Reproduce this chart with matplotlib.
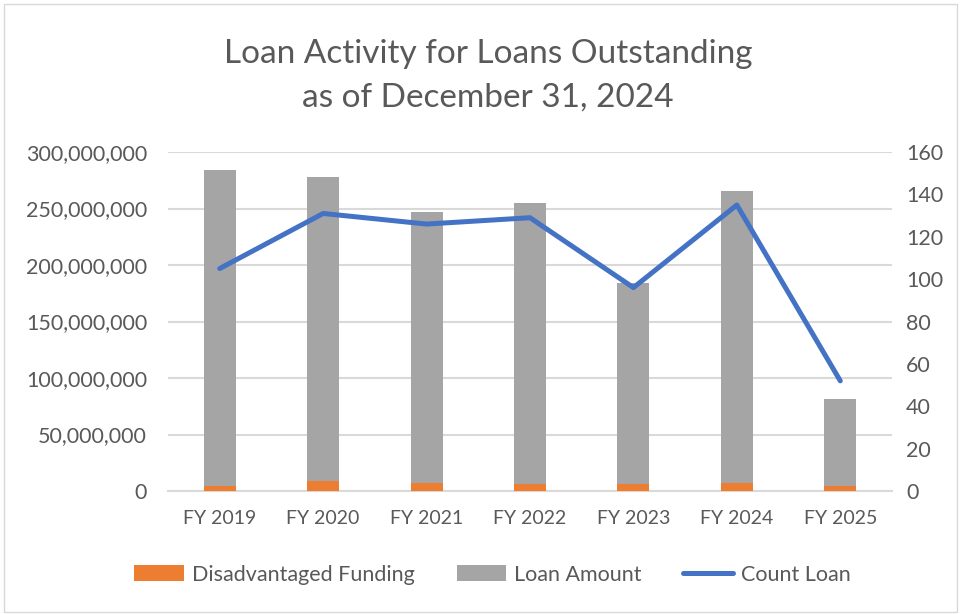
import matplotlib.pyplot as plt
import matplotlib.ticker as mticker
from matplotlib.patches import Rectangle
import numpy as np

categories = ["FY 2019", "FY 2020", "FY 2021", "FY 2022", "FY 2023", "FY 2024", "FY 2025"]
disadvantaged = [4.2e6, 8.6e6, 7.1e6, 6.2e6, 6.2e6, 7.1e6, 4.2e6]
loan_total = [283.7e6, 277.8e6, 247.3e6, 255.3e6, 184.5e6, 265.4e6, 81.3e6]
loan_amount = [t - d for t, d in zip(loan_total, disadvantaged)]
count_loan = [105, 131, 126, 129, 96, 135, 52]

plt.rcParams['font.family'] = ['Lato', 'DejaVu Sans']
txt = '#595959'
grid = '#D9D9D9'

fig = plt.figure(figsize=(9.61, 6.14), dpi=100)
fig.patches.append(Rectangle((0.004, 0.004), 0.992, 0.99, transform=fig.transFigure,
                             fill=False, edgecolor='#D9D9D9', linewidth=1))
ax = fig.add_axes([0.1748, 0.2003, 0.7534, 0.5521])
ax2 = ax.twinx()

x = np.arange(len(categories))
w = 0.31
b1 = ax.bar(x, disadvantaged, w, color='#ED7D31', label='Disadvantaged Funding', zorder=3)
b2 = ax.bar(x, loan_amount, w, bottom=disadvantaged, color='#A5A5A5', label='Loan Amount', zorder=3)
l1, = ax2.plot(x, count_loan, color='#4472C4', linewidth=3.6, label='Count Loan',
               solid_capstyle='round', solid_joinstyle='round')

ax.set_xlim(-0.5, 6.5)
ax.set_ylim(0, 300e6)
ax.set_yticks(np.arange(0, 300e6 + 1, 50e6))
ax.yaxis.set_major_formatter(mticker.FuncFormatter(lambda v, p: f"{int(v):,}"))
ax2.set_ylim(0, 160)
ax2.set_yticks(np.arange(0, 161, 20))

ax.grid(axis='y', color=grid, linewidth=1.5, zorder=0)
ax.set_axisbelow(True)
for a in (ax, ax2):
    for s in a.spines.values():
        s.set_visible(False)
ax.spines['bottom'].set_visible(True)
ax.spines['bottom'].set_color(grid)
ax.spines['bottom'].set_linewidth(1.5)

ax.set_xticks(x)
ax.set_xticklabels(categories)
ax.tick_params(axis='x', length=0, pad=14, labelsize=14, labelcolor=txt)
ax.tick_params(axis='y', length=0, pad=15, labelsize=15.5, labelcolor=txt)
ax2.tick_params(axis='y', length=0, pad=10, labelsize=15.5, labelcolor=txt)

fig.text(0.508, 0.877, "Loan Activity for Loans Outstanding\nas of December 31, 2024",
         ha='center', va='center', fontsize=24, color=txt, linespacing=1.55)

fig.legend(handles=[b1, b2, l1], loc='center', bbox_to_anchor=(0.5125, 0.064), ncol=3,
           frameon=False, fontsize=15.5, labelcolor=txt, handlelength=2.3, handleheight=0.8,
           columnspacing=1.95, handletextpad=0.37)

fig.savefig('out.png', dpi=100)
